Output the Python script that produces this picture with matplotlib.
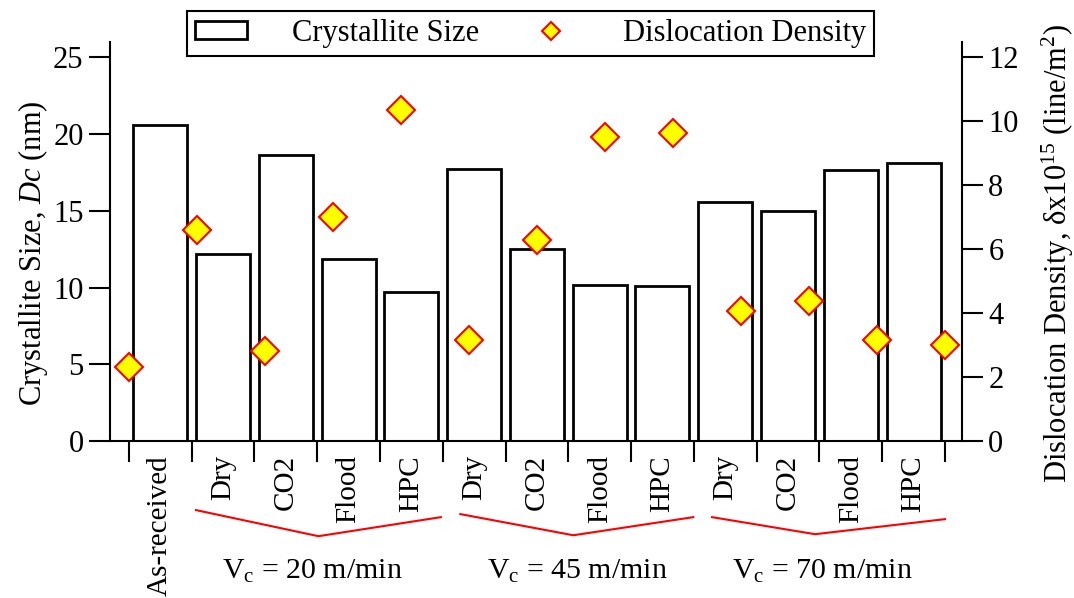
import numpy as np
import matplotlib.pyplot as plt
from matplotlib.patches import Patch
from matplotlib.lines import Line2D

plt.rcParams['font.family'] = ['Liberation Serif', 'DejaVu Serif']
plt.rcParams['mathtext.fontset'] = 'custom'
plt.rcParams['mathtext.rm'] = 'Liberation Serif'
plt.rcParams['mathtext.it'] = 'Liberation Serif:italic'

# samples
labels = ['As-received', 'Dry', 'CO2', 'Flood', 'HPC', 'Dry', 'CO2', 'Flood', 'HPC',
          'Dry', 'CO2', 'Flood', 'HPC']
groups = ['20', '45', '70']

# crystallite size Dc (nm)
Dc = [20.6, 12.2, 18.65, 11.85, 9.7, 17.7, 12.5, 10.15, 10.1, 15.55, 15.0, 17.65, 18.1]
# dislocation density (x10^15 line/m^2)
delta = [2.33, 6.6, 2.83, 7.0, 10.35, 3.15, 6.3, 9.5, 9.62, 4.08, 4.38, 3.17, 3.0]

fs = 22
n = len(labels)
x = np.arange(n)

fig = plt.figure(figsize=(10.74, 5.98), dpi=100)
ax = fig.add_axes([0.1024, 0.2625, 0.7933, 0.6673])

ax.bar(x, Dc, width=0.86, color='white', edgecolor='black', linewidth=2.0, zorder=2)
ax.set_xlim(-0.8, 12.77)
ax.set_ylim(0, 26)
ax.set_yticks([0, 5, 10, 15, 20, 25])
ax.set_xticks(x)
ax.set_xticklabels(labels, rotation=90, va='top', ha='center')
ax.set_xticks(np.arange(n + 1) - 0.5, minor=True)
ax.tick_params(axis='x', which='major', length=0, pad=10, labelsize=21)
ax.tick_params(axis='x', which='minor', length=15, width=1.5, direction='out')
ax.tick_params(axis='y', length=15, width=1.5, direction='out', labelsize=fs, pad=4)
ax.spines['top'].set_visible(False)
ax.spines['right'].set_visible(False)
for s in ['left', 'bottom']:
    ax.spines[s].set_linewidth(1.5)
ax.set_ylabel(r'Crystallite Size, $\mathit{Dc}$ (nm)', fontsize=fs, labelpad=2)
ax.yaxis.label.set_y(0.471)

ax2 = ax.twinx()
# density points are spread across the whole category range
xd = np.linspace(-0.5, n - 0.5, n)
ax2.plot(xd, delta, linestyle='none', marker='D', markersize=14,
         markerfacecolor='#ffff00', markeredgecolor='#ff0000', markeredgewidth=1.5,
         clip_on=False, zorder=3)
ax2.set_ylim(0, 26 * 12 / 25)
ax2.set_yticks(np.arange(0, 13, 2))
ax2.tick_params(axis='y', length=15, width=1.5, direction='out', labelsize=fs, pad=4)
for s in ['top', 'left', 'bottom']:
    ax2.spines[s].set_visible(False)
ax2.spines['right'].set_linewidth(1.5)
ax2.set_ylabel('Dislocation Density, δx10$^{15}$ (line/m$^{2}$)',
               fontsize=fs, labelpad=15)
ax2.yaxis.label.set_y(0.469)

# cutting-speed brackets under the category labels
brackets = [
    ([0.57, 2.52, 4.47], [-4.5, -6.2, -4.96]),
    ([4.78, 6.58, 8.49], [-4.76, -6.14, -4.96]),
    ([8.79, 10.43, 12.5], [-4.96, -6.07, -5.09]),
]
for bx, by in brackets:
    ax.plot(bx, by, color='#ff0000', linewidth=1.5, clip_on=False)

gx = [2.42, 6.64, 10.54]
for g, cx in zip(groups, gx):
    ax.text(cx, -8.5, r'V$_{\mathrm{c}}$ = ' + g + ' m/min', ha='center', va='center',
            fontsize=21.5)

handles = [Patch(facecolor='white', edgecolor='black', linewidth=2.0),
           Line2D([], [], linestyle='none', marker='D', markersize=9,
                  markerfacecolor='#ffff00', markeredgecolor='#ff0000',
                  markeredgewidth=1.5)]
leg = fig.legend(handles, ['Crystallite Size', 'Dislocation Density'], ncol=2,
                 loc='center', bbox_to_anchor=(0.494, 0.944), fontsize=fs,
                 frameon=True, fancybox=False, edgecolor='black',
                 handlelength=1.7, handleheight=0.56, handletextpad=1.5,
                 columnspacing=1.5, borderpad=0.25, borderaxespad=0)
leg.get_frame().set_linewidth(1.5)
leg.get_frame().set_alpha(1)

fig.savefig('out.png', dpi=100)
